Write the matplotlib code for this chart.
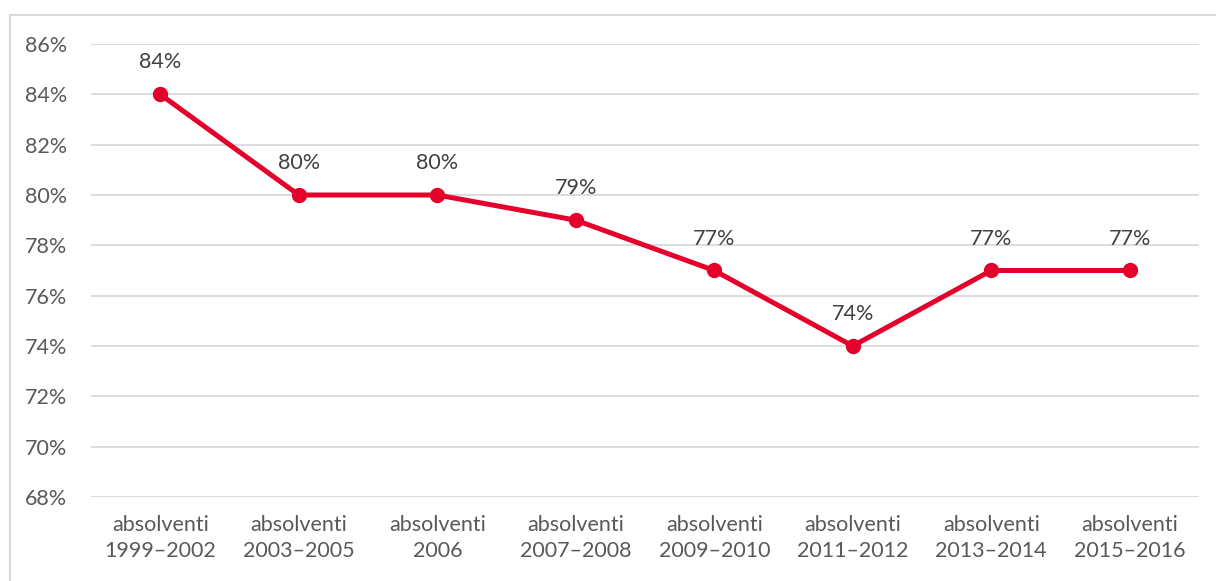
import matplotlib
matplotlib.use("Agg")
import matplotlib.pyplot as plt
from matplotlib.patches import Rectangle

categories = ["absolventi\n1999–2002", "absolventi\n2003–2005", "absolventi\n2006",
              "absolventi\n2007–2008", "absolventi\n2009–2010", "absolventi\n2011–2012",
              "absolventi\n2013–2014", "absolventi\n2015–2016"]
values = [84, 80, 80, 79, 77, 74, 77, 77]
yticks = [68, 70, 72, 74, 76, 78, 80, 82, 84, 86]

plt.rcParams['font.family'] = ['Lato', 'DejaVu Sans']
txt = '#595959'
red = '#E4002B'

fig = plt.figure(figsize=(12.16, 5.81), dpi=100)
fig.patches.append(Rectangle((10/1216, -0.1), 1.2, 1 - 15/581 + 0.1, transform=fig.transFigure,
                             fill=False, edgecolor='#D9D9D9', linewidth=1.5))
ax = fig.add_axes([91/1216, 1 - 497/581, (1199 - 91)/1216, (497 - 44)/581])

x = list(range(len(categories)))
ax.plot(x, values, color=red, linewidth=3.6, marker='o', markersize=10, zorder=3)
for xi, v in zip(x, values):
    ax.annotate(f"{v}%", (xi, v), xytext=(0, 23), textcoords='offset points',
                ha='center', va='center', fontsize=15.5, color='#404040')

ax.set_xlim(-0.5, len(categories) - 0.5)
ax.set_ylim(68, 86)
ax.set_yticks(yticks)
ax.set_yticklabels([f"{t}%" for t in yticks])
ax.set_xticks(x)
ax.set_xticklabels(categories, linespacing=1.35)
ax.tick_params(axis='both', length=0, labelsize=15.5, labelcolor=txt)
ax.tick_params(axis='y', pad=17)
ax.tick_params(axis='x', pad=13)
ax.grid(axis='y', color='#D9D9D9', linewidth=1.3)
ax.set_axisbelow(True)
for s in ax.spines.values():
    s.set_visible(False)

fig.savefig("out.png", dpi=100)
